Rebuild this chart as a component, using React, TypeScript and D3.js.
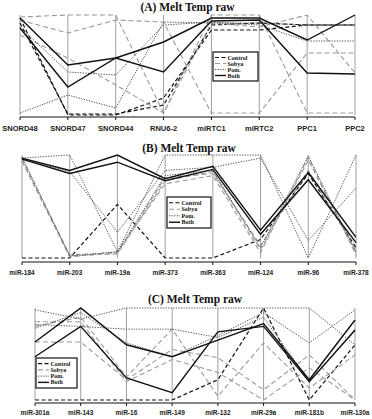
import React from 'react';
import * as d3 from 'd3';

// ---------- Panel A ----------
const catsA = ['SNORD48', 'SNORD47', 'SNORD44', 'RNU6-2', 'miRTC1', 'miRTC2', 'PPC1', 'PPC2'];
const aControl = [
  [0.97, 0.0, 0.0, 0.17, 0.85, 0.85, 0.9, 0.9],
  [0.92, 0.01, 0.01, 0.1, 0.9, 0.92, 0.9, 0.9],
];
const aSobya = [
  [0.98, 1.0, 1.0, 0.02, 1.0, 1.0, 0.02, 0.02],
  [0.95, 0.82, 0.95, 0.93, 0.02, 0.02, 0.62, 0.62],
  [0.8, 0.57, 0.3, 0.02, 0.92, 0.88, 1.0, 0.42],
];
const aPom = [
  [0.02, 0.2, 0.07, 0.93, 0.92, 0.92, 0.9, 0.9],
  [0.88, 0.43, 0.4, 0.9, 0.93, 0.9, 0.74, 0.74],
];
const aBoth = [
  [0.97, 0.5, 0.57, 0.73, 0.97, 0.97, 0.75, 1.0],
  [0.87, 0.28, 0.57, 0.43, 0.94, 0.95, 0.42, 0.41],
];

// ---------- Panel B ----------
const catsB = ['miR-184', 'miR-203', 'miR-19a', 'miR-373', 'miR-363', 'miR-124', 'miR-96', 'miR-378'];
const bControl = [
  [0.0, 0.0, 0.52, 0.0, 0.0, 0.18, 0.82, 0.1],
];
const bSobya = [
  [0.97, 0.02, 0.04, 0.75, 0.84, 0.08, 0.95, 0.05],
  [0.95, 0.03, 0.05, 0.78, 0.82, 0.12, 0.85, 0.08],
  [0.94, 0.01, 0.06, 0.72, 0.8, 0.05, 0.98, 0.03],
];
const bPom = [
  [0.98, 0.02, 0.06, 0.8, 0.85, 0.1, 0.99, 0.06],
  [0.97, 1.0, 0.06, 1.0, 1.0, 1.0, 0.0, 1.0],
  [0.96, 0.84, 0.25, 0.85, 0.88, 0.97, 0.17, 0.68],
];
const bBoth = [
  [0.97, 0.85, 1.0, 0.77, 0.89, 0.27, 0.83, 0.2],
  [0.96, 0.82, 0.93, 0.75, 0.86, 0.23, 0.76, 0.15],
];

// ---------- Panel C ----------
const catsC = ['miR-301a', 'miR-143', 'miR-16', 'miR-149', 'miR-132', 'miR-29a', 'miR-181b', 'miR-130a'];
const cControl = [
  [0.0, 0.0, 0.0, 0.0, 0.22, 1.0, 0.0, 0.6],
];
const cSobya = [
  [0.63, 0.63, 0.22, 0.55, 0.46, 0.11, 0.49, 0.0],
  [0.8, 0.9, 0.25, 0.77, 0.04, 0.62, 0.13, 0.49],
  [0.85, 0.85, 0.2, 0.44, 0.3, 0.0, 0.35, 0.0],
];
const cPom = [
  [0.98, 0.88, 1.0, 1.0, 1.0, 1.0, 1.0, 0.6],
  [0.82, 0.8, 0.77, 0.77, 0.68, 0.9, 0.2, 0.75],
  [0.78, 0.95, 0.62, 0.47, 0.7, 0.95, 0.62, 0.98],
];
const cBoth = [
  [0.63, 1.0, 0.6, 0.47, 0.65, 0.83, 0.22, 0.87],
  [0.47, 0.8, 0.24, 0.08, 0.74, 0.8, 0.2, 0.76],
];

const legendLabels = ['Control', 'Sobya', 'Pom.', 'Both'];

type Style = { stroke: string; dash?: string; w: number };
const groupStyles: Style[] = [
  { stroke: '#111', dash: '4,2.5', w: 1.2 },
  { stroke: '#9a9a9a', dash: '5,3', w: 1.1 },
  { stroke: '#555', dash: '1.3,1.3', w: 1.0 },
  { stroke: '#111', w: 1.4 },
];

type Panel = {
  title: string;
  cats: string[];
  groups: number[][][];
  x0: number; x1: number; top: number; bottom: number;
  axisY: number; labelY: number; titleY: number; labelSize: number;
  legend: { x: number; y: number; w: number; h: number };
};

const panels: Panel[] = [
  {
    title: '(A) Melt Temp raw', cats: catsA, groups: [aControl, aSobya, aPom, aBoth],
    x0: 20, x1: 355, top: 15, bottom: 115, axisY: 117, labelY: 131, titleY: 11, labelSize: 7.5,
    legend: { x: 213, y: 52, w: 45, h: 29 },
  },
  {
    title: '(B) Melt Temp raw', cats: catsB, groups: [bControl, bSobya, bPom, bBoth],
    x0: 22, x1: 356, top: 155, bottom: 258, axisY: 262, labelY: 275, titleY: 152, labelSize: 6.5,
    legend: { x: 167, y: 197, w: 44, h: 31 },
  },
  {
    title: '(C) Melt Temp raw', cats: catsC, groups: [cControl, cSobya, cPom, cBoth],
    x0: 35, x1: 355, top: 308, bottom: 400, axisY: 403, labelY: 415, titleY: 303, labelSize: 6.5,
    legend: { x: 36, y: 358, w: 41, h: 30 },
  },
];

function PanelView({ p }: { p: Panel }) {
  const x = d3.scalePoint<string>().domain(p.cats).range([p.x0, p.x1]);
  const y = d3.scaleLinear().domain([0, 1]).range([p.bottom, p.top]);
  const line = d3.line<number>().x((_, i) => x(p.cats[i]) as number).y((d) => y(d));
  const cx = (p.x0 + p.x1) / 2;
  const rowH = (p.legend.h - 5) / 4;
  return (
    <g>
      <text x={cx} y={p.titleY} textAnchor="middle" fontFamily="'Liberation Serif', 'Times New Roman', serif"
        fontWeight="bold" fontSize={11.5} fill="#111">{p.title}</text>
      {p.cats.map((c) => (
        <line key={c} x1={x(c)} x2={x(c)} y1={p.top} y2={p.bottom} stroke="#a0a0a0" strokeWidth={1} />
      ))}
      {p.groups.map((g, gi) =>
        g.map((vals, li) => (
          <path key={`${gi}-${li}`} d={line(vals) || ''} fill="none" stroke={groupStyles[gi].stroke}
            strokeWidth={groupStyles[gi].w} strokeDasharray={groupStyles[gi].dash} />
        ))
      )}
      <line x1={p.x0} x2={p.x1} y1={p.axisY} y2={p.axisY} stroke="#111" strokeWidth={1} />
      {p.cats.map((c) => (
        <g key={c}>
          <line x1={x(c)} x2={x(c)} y1={p.axisY} y2={p.axisY + 3} stroke="#111" strokeWidth={1} />
          <text x={x(c)} y={p.labelY} textAnchor="middle" fontFamily="'Liberation Sans', Arial, sans-serif"
            fontWeight="bold" fontSize={p.labelSize} fill="#222">{c}</text>
        </g>
      ))}
      <rect x={p.legend.x} y={p.legend.y} width={p.legend.w} height={p.legend.h} fill="#fff" stroke="#111" strokeWidth={1.2} />
      {legendLabels.map((lab, i) => {
        const ly = p.legend.y + 2.5 + rowH * (i + 0.5);
        return (
          <g key={lab}>
            <line x1={p.legend.x + 2} x2={p.legend.x + 13} y1={ly} y2={ly} stroke={groupStyles[i].stroke}
              strokeWidth={groupStyles[i].w} strokeDasharray={groupStyles[i].dash} />
            <text x={p.legend.x + 14.5} y={ly + 2} fontFamily="'Liberation Serif', 'Times New Roman', serif"
              fontWeight="bold" fontSize={6} fill="#111">{lab}</text>
          </g>
        );
      })}
    </g>
  );
}

export default function App() {
  return (
    <svg width={372} height={419} style={{ position: 'absolute', left: 0, top: 0, background: '#fff' }}>
      <rect width={372} height={419} fill="#fff" />
      {panels.map((p) => <PanelView key={p.title} p={p} />)}
    </svg>
  );
}
